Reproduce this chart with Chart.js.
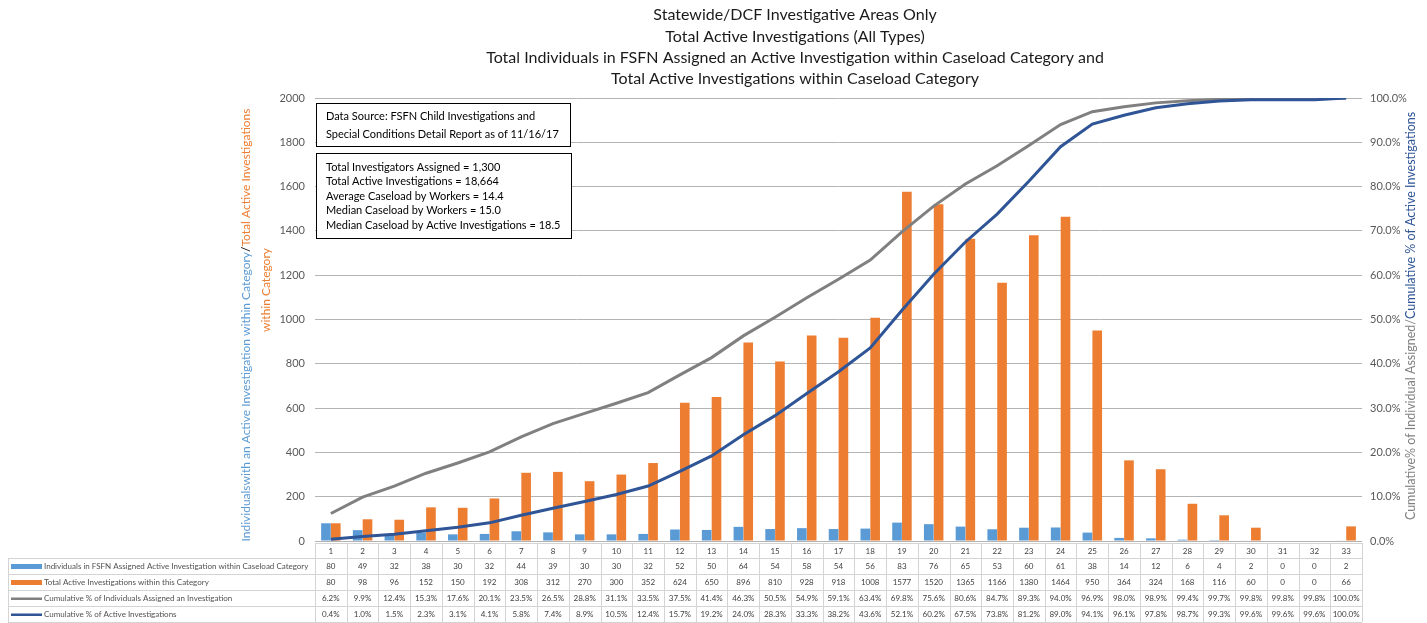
<!DOCTYPE html>
<html>
<head>
<meta charset="utf-8">
<script src="https://cdn.jsdelivr.net/npm/chart.js@4.4.1/dist/chart.umd.min.js"></script>
<style>
  html, body { margin: 0; padding: 0; background: #fff; }
  #wrap { width: 1427px; height: 623px; position: relative; }
</style>
</head>
<body>
<div id="wrap"><canvas id="c"></canvas></div>
<script>
const FONT = "Lato, 'Open Sans', sans-serif";

const categories = ['1','2','3','4','5','6','7','8','9','10','11','12','13','14','15','16','17','18','19','20','21','22','23','24','25','26','27','28','29','30','31','32','33'];
const individuals = [80,49,32,38,30,32,44,39,30,30,32,52,50,64,54,58,54,56,83,76,65,53,60,61,38,14,12,6,4,2,0,0,2];
const activeInv = [80,98,96,152,150,192,308,312,270,300,352,624,650,896,810,928,918,1008,1577,1520,1365,1166,1380,1464,950,364,324,168,116,60,0,0,66];
const cumIndividuals = [6.2,9.9,12.4,15.3,17.6,20.1,23.5,26.5,28.8,31.1,33.5,37.5,41.4,46.3,50.5,54.9,59.1,63.4,69.8,75.6,80.6,84.7,89.3,94.0,96.9,98.0,98.9,99.4,99.7,99.8,99.8,99.8,100.0];
const cumActive = [0.4,1.0,1.5,2.3,3.1,4.1,5.8,7.4,8.9,10.5,12.4,15.7,19.2,24.0,28.3,33.3,38.2,43.6,52.1,60.2,67.5,73.8,81.2,89.0,94.1,96.1,97.8,98.7,99.3,99.6,99.6,99.6,100.0];

const titleLines = [
  'Statewide/DCF Investigative Areas Only',
  'Total Active Investigations (All Types)',
  'Total Individuals in FSFN Assigned an Active Investigation within Caseload Category and',
  'Total Active Investigations within Caseload Category'
];
const sourceBox = ['Data Source: FSFN Child Investigations and', 'Special Conditions Detail Report as of 11/16/17'];
const statsBox = [
  'Total Investigators Assigned = 1,300',
  'Total Active Investigations = 18,664',
  'Average Caseload by Workers = 14.4',
  'Median Caseload by Workers = 15.0',
  'Median Caseload by Active Investigations = 18.5'
];

const C_BLUE = '#5b9bd5', C_ORANGE = '#ed7d31', C_GRAY = '#808080', C_NAVY = '#2f5597';

const tableRows = [
  { label: 'Individuals in FSFN Assigned Active Investigation within Caseload Category', data: individuals, color: C_BLUE, kind: 'bar', fmt: (v) => String(v) },
  { label: 'Total Active Investigations within this Category', data: activeInv, color: C_ORANGE, kind: 'bar', fmt: (v) => String(v) },
  { label: 'Cumulative % of Individuals Assigned an Investigation', data: cumIndividuals, color: C_GRAY, kind: 'line', fmt: (v) => v.toFixed(1) + '%' },
  { label: 'Cumulative % of Active Investigations', data: cumActive, color: C_NAVY, kind: 'line', fmt: (v) => v.toFixed(1) + '%' },
];

function drawSegments(ctx, parts, cx, cy) {
  // parts: [{t, c}], drawn as one centered run
  let total = 0;
  parts.forEach((p) => { total += ctx.measureText(p.t).width; });
  let x = cx - total / 2;
  ctx.textAlign = 'left';
  parts.forEach((p) => { ctx.fillStyle = p.c; ctx.fillText(p.t, x, cy); x += ctx.measureText(p.t).width; });
}

const decor = {
  id: 'decor',
  afterDraw(chart) {
    const { ctx, scales } = chart;
    ctx.save();
    ctx.textBaseline = 'middle';

    // title
    ctx.font = `16px ${FONT}`;
    ctx.fillStyle = '#1a1a1a';
    ctx.textAlign = 'center';
    [15, 37, 58, 79].forEach((y, i) => ctx.fillText(titleLines[i], 795, y));

    // left axis title (rotated)
    ctx.save();
    ctx.translate(246, 325);
    ctx.rotate(-Math.PI / 2);
    ctx.font = `12px ${FONT}`;
    drawSegments(ctx, [
      { t: 'Individualswith an Active Investigation within Category', c: C_BLUE },
      { t: '/', c: '#000' },
      { t: 'Total Active Investigations', c: C_ORANGE },
    ], 0, 0);
    ctx.restore();
    ctx.save();
    ctx.translate(266, 290);
    ctx.rotate(-Math.PI / 2);
    ctx.font = `12px ${FONT}`;
    drawSegments(ctx, [{ t: 'within Category', c: C_ORANGE }], 0, 0);
    ctx.restore();

    // right axis title
    ctx.save();
    ctx.translate(1411, 316);
    ctx.rotate(-Math.PI / 2);
    ctx.font = `12.5px ${FONT}`;
    drawSegments(ctx, [
      { t: 'Cumulative% of Individual Assigned/', c: C_GRAY },
      { t: 'Cumulative % of Active Investigations', c: C_NAVY },
    ], 0, 0);
    ctx.restore();

    // text boxes
    ctx.font = `11px ${FONT}`;
    ctx.textAlign = 'left';
    ctx.fillStyle = '#fff'; ctx.strokeStyle = '#000'; ctx.lineWidth = 1;
    ctx.fillRect(316.5, 103.5, 254, 43); ctx.strokeRect(316.5, 103.5, 254, 43);
    ctx.fillStyle = '#000';
    sourceBox.forEach((t, i) => ctx.fillText(t, 326, 116 + i * 18));
    ctx.fillStyle = '#fff';
    ctx.fillRect(316.5, 153.5, 255, 85); ctx.strokeRect(316.5, 153.5, 255, 85);
    ctx.fillStyle = '#000';
    statsBox.forEach((t, i) => ctx.fillText(t, 326, 167 + i * 14.6));

    // data table
    const xs = scales.x;
    const colW = xs.getPixelForValue(1) - xs.getPixelForValue(0);
    const left = xs.getPixelForValue(0) - colW / 2;
    const right = left + colW * categories.length;
    const top = 543, headH = 15, rowH = 16;
    const tLeft = 8;
    const bottom = top + headH + rowH * tableRows.length;
    ctx.strokeStyle = '#d4d4d4'; ctx.lineWidth = 1;
    ctx.beginPath();
    ctx.moveTo(left, top + 0.5); ctx.lineTo(right, top + 0.5);
    for (let r = 0; r <= tableRows.length; r++) {
      const y = Math.round(top + headH + r * rowH) + 0.5;
      ctx.moveTo(tLeft, y); ctx.lineTo(right, y);
    }
    for (let i = 0; i <= categories.length; i++) {
      const x = Math.round(left + i * colW) + 0.5;
      ctx.moveTo(x, top); ctx.lineTo(x, bottom);
    }
    ctx.moveTo(tLeft + 0.5, top + headH); ctx.lineTo(tLeft + 0.5, bottom);
    ctx.stroke();

    ctx.font = `8px ${FONT}`;
    ctx.fillStyle = '#404040';
    ctx.textAlign = 'center';
    categories.forEach((c, i) => ctx.fillText(c, xs.getPixelForValue(i), top + headH / 2 + 0.5));
    tableRows.forEach((row, r) => {
      const cy = top + headH + r * rowH + rowH / 2 + 0.5;
      ctx.textAlign = 'center';
      ctx.fillStyle = '#404040';
      row.data.forEach((v, i) => ctx.fillText(row.fmt(v), xs.getPixelForValue(i), cy));
      ctx.fillStyle = row.color;
      if (row.kind === 'bar') ctx.fillRect(11, cy - 2.5, 31, 5);
      else ctx.fillRect(11, cy - 1, 31, 2.5);
      ctx.textAlign = 'left';
      ctx.fillStyle = '#505050';
      ctx.fillText(row.label, 44, cy);
    });
    ctx.restore();
  }
};

new Chart(document.getElementById('c'), {
  type: 'bar',
  data: {
    labels: categories,
    datasets: [
      { type: 'line', label: tableRows[3].label, data: cumActive, yAxisID: 'y1', borderColor: C_NAVY, borderWidth: 3, pointRadius: 0, tension: 0, order: 0 },
      { type: 'line', label: tableRows[2].label, data: cumIndividuals, yAxisID: 'y1', borderColor: C_GRAY, borderWidth: 3, pointRadius: 0, tension: 0, order: 1 },
      { label: tableRows[0].label, data: individuals, backgroundColor: C_BLUE, yAxisID: 'y', order: 2, categoryPercentage: 0.62, barPercentage: 0.98 },
      { label: tableRows[1].label, data: activeInv, backgroundColor: C_ORANGE, yAxisID: 'y', order: 2, categoryPercentage: 0.62, barPercentage: 0.98 },
    ],
  },
  options: {
    responsive: true, maintainAspectRatio: false, animation: false,
    layout: { padding: { top: 98, bottom: 82, left: 0, right: 0 } },
    plugins: { legend: { display: false }, tooltip: { enabled: false }, title: { display: false } },
    scales: {
      x: {
        grid: { display: false }, border: { display: false },
        ticks: { display: false },
        afterFit(s) { s.height = 0; },
      },
      y: {
        position: 'left', min: 0, max: 2000,
        ticks: { stepSize: 200, color: '#595959', font: { family: FONT, size: 11 }, padding: 10, callback: (v) => String(v) },
        grid: { color: '#b4b4b4', drawTicks: false },
        border: { display: false },
        afterFit(s) { s.width = 315; },
      },
      y1: {
        position: 'right', min: 0, max: 100,
        ticks: { stepSize: 10, color: '#595959', font: { family: FONT, size: 11 }, padding: 8, callback: (v) => v.toFixed(1) + '%' },
        grid: { display: false, drawTicks: false },
        border: { display: false },
        afterFit(s) { s.width = 65; },
      },
    },
  },
  plugins: [decor],
});
</script>
</body>
</html>
